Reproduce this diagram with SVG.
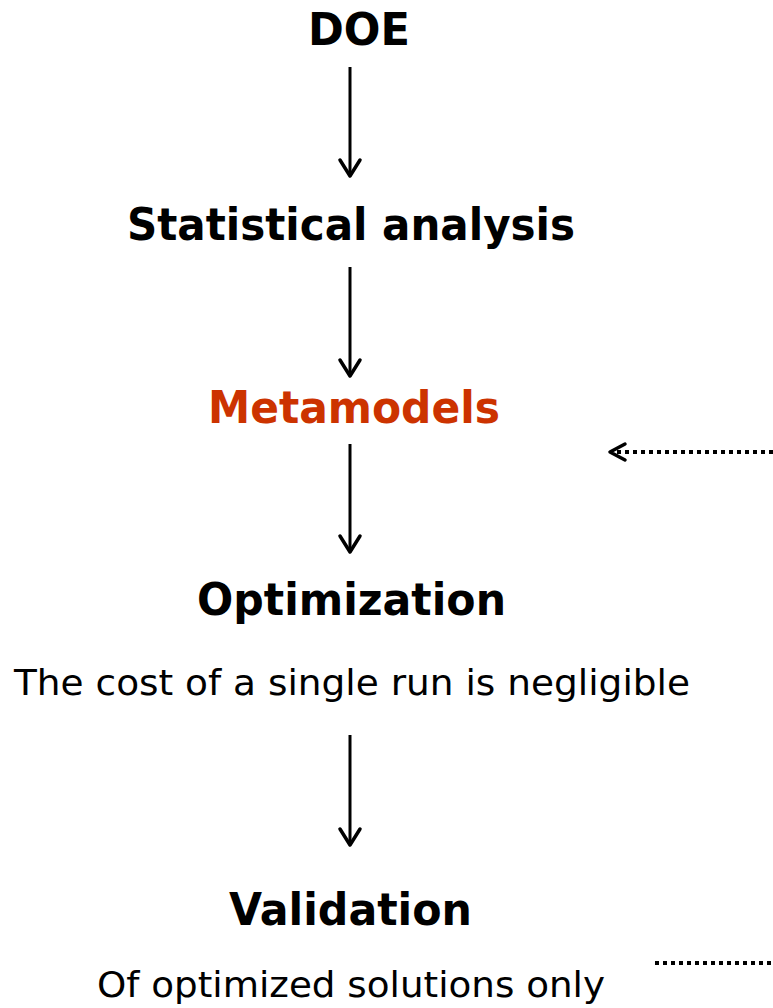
<svg xmlns="http://www.w3.org/2000/svg" width="773" height="1008" viewBox="0 0 773 1008">
<style>
.t{font-family:"DejaVu Sans","Liberation Sans",sans-serif;fill:#000}
.b{font-weight:bold;font-size:45px}
.n{font-size:36px}
.red{fill:#CC3300}
.ln{stroke:#000;stroke-width:3;fill:none}
.dot{stroke:#000;stroke-width:4;fill:none;stroke-dasharray:4 4}
.hd{stroke:#000;stroke-width:3.5;fill:none;stroke-linecap:round;stroke-linejoin:round}
</style>
<rect width="773" height="1008" fill="#fff"/>
<g id="doe"><text class="t b" x="308" y="45" textLength="102" lengthAdjust="spacingAndGlyphs">DOE</text></g>
<g id="stat"><text class="t b" x="127" y="240" textLength="448" lengthAdjust="spacingAndGlyphs">Statistical analysis</text></g>
<g id="meta"><text class="t b red" x="208" y="423" textLength="292" lengthAdjust="spacingAndGlyphs">Metamodels</text></g>
<g id="opt"><text class="t b" x="197" y="615" textLength="309" lengthAdjust="spacingAndGlyphs">Optimization</text>
<text class="t n" x="14" y="695" textLength="676" lengthAdjust="spacingAndGlyphs">The cost of a single run is negligible</text></g>
<g id="val"><text class="t b" x="229" y="925" textLength="243" lengthAdjust="spacingAndGlyphs">Validation</text>
<text class="t n" x="97" y="997" textLength="508" lengthAdjust="spacingAndGlyphs">Of optimized solutions only</text></g>
<g id="connectors">
<line class="ln" x1="350" y1="67" x2="350" y2="176"/><polyline class="hd" points="340,160 350,176 360,160"/>
<line class="ln" x1="350" y1="267" x2="350" y2="376"/><polyline class="hd" points="340,360 350,376 360,360"/>
<line class="ln" x1="350" y1="444" x2="350" y2="552"/><polyline class="hd" points="340,536 350,552 360,536"/>
<line class="ln" x1="350" y1="735" x2="350" y2="845"/><polyline class="hd" points="340,829 350,845 360,829"/>
<line class="dot" x1="773" y1="452" x2="612" y2="452"/><polyline class="hd" points="625,444 610,452 625,460"/>
<line class="dot" x1="655" y1="963" x2="773" y2="963"/>
</g>
</svg>
